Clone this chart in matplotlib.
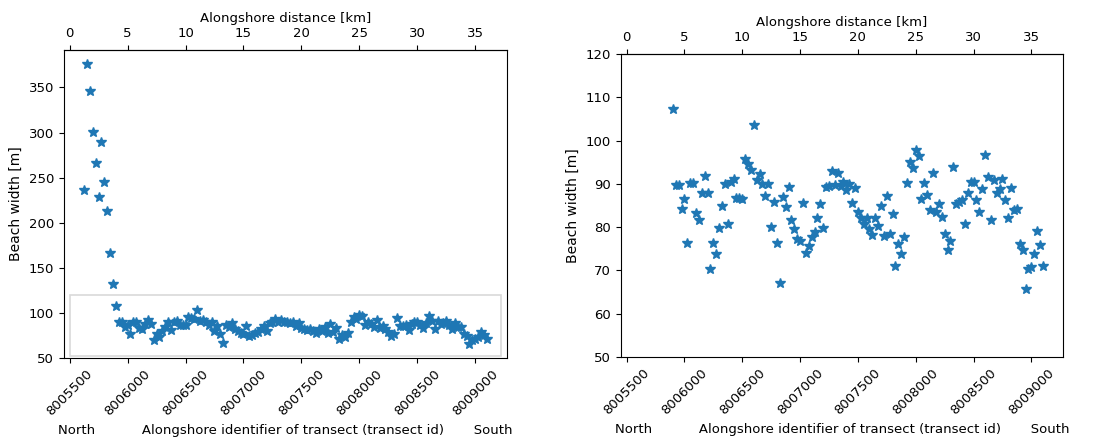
import numpy as np
import matplotlib
matplotlib.use("Agg")
import matplotlib.pyplot as plt
import matplotlib.patches as patches

# transects are numbered every 25 ids, 100 ids per km alongshore
first_id = 8005625
id_step = 25
origin_id = 8005500

# northern transects (only visible in the full-range panel)
north_width = [236, 376, 346, 301, 266, 229, 290, 245, 213, 166, 132]

# remaining transects, north to south
main_width = [
    107.3, 89.8, 89.8, 84.2, 86.5, 76.4, 90.2, 90.2, 83.2, 81.7,
    87.9, 91.9, 87.9, 70.4, 76.4, 73.7, 79.8, 84.8, 89.9, 80.7,
    90.4, 91.2, 86.8, 86.8, 86.5, 95.7, 94.6, 93.2, 103.5, 90.9,
    92.2, 90.0, 87.1, 89.9, 80.0, 85.8, 76.3, 67.0, 86.9, 84.6,
    89.2, 81.7, 79.5, 77.2, 76.7, 85.5, 74.0, 75.7, 77.8, 78.8,
    82.1, 85.4, 79.8, 89.3, 89.6, 93.0, 89.7, 92.5, 89.4, 90.4,
    88.6, 89.9, 85.5, 89.0, 83.4, 82.2, 80.7, 82.1, 79.5, 78.2,
    82.1, 80.2, 84.8, 78.0, 87.3, 78.5, 83.0, 71.1, 76.0, 73.8,
    77.7, 90.3, 95.0, 93.6, 97.8, 96.5, 86.6, 90.2, 87.4, 84.0,
    92.6, 83.6, 85.4, 82.4, 78.4, 74.7, 76.7, 93.9, 85.4, 85.9,
    86.2, 80.7, 88.0, 90.4, 90.4, 86.3, 83.4, 88.7, 96.7, 91.5,
    81.7, 90.9, 88.0, 88.8, 91.2, 86.3, 82.1, 89.0, 84.0, 84.2,
    76.1, 74.7, 65.7, 70.4, 70.7, 73.7, 79.2, 75.9, 71.1,
]

width = np.array(north_width + main_width)
transect_id = first_id + id_step * np.arange(len(width))
n_north = len(north_width)

id_ticks = [8005500, 8006000, 8006500, 8007000, 8007500, 8008000, 8008500, 8009000]
km_ticks = [0, 5, 10, 15, 20, 25, 30, 35]

plt.rcParams['font.size'] = 9.5
fig = plt.figure(figsize=(11.01, 4.43), dpi=100)
ax1 = fig.add_axes([0.0581, 0.1919, 0.4024, 0.6952])
ax2 = fig.add_axes([0.5640, 0.1941, 0.4015, 0.6840])

xlabel = ("North" + " " * 11 + "Alongshore identifier of transect (transect id)"
          + " " * 7 + "South")


def id_to_km(x):
    return (x - origin_id) / 100.0


def km_to_id(d):
    return d * 100.0 + origin_id


ax1.plot(transect_id, width, '*', color='tab:blue', markersize=7)
ax2.plot(transect_id[n_north:], width[n_north:], '*', color='tab:blue', markersize=7)

span = transect_id[-1] - transect_id[0]
xlim = (transect_id[0] - 0.05 * span, transect_id[-1] + 0.05 * span)
wspan = width.max() - width.min()

for ax in (ax1, ax2):
    ax.set_xlim(*xlim)
    ax.set_xticks(id_ticks)
    ax.ticklabel_format(axis='x', useOffset=False, style='plain')
    plt.setp(ax.get_xticklabels(), rotation=45, ha='center')
    ax.set_xlabel(xlabel)
    ax.set_ylabel("Beach width [m]", fontsize=10)
    top = ax.secondary_xaxis('top', functions=(id_to_km, km_to_id))
    top.set_xticks(km_ticks)
    top.set_xlabel("Alongshore distance [km]")

ax1.set_ylim(50, width.max() + 0.05 * wspan)
ax1.set_yticks([50, 100, 150, 200, 250, 300, 350])
ax2.set_ylim(50, 120)
ax2.set_yticks(np.arange(50, 121, 10))

# outline of the range shown in the right-hand panel
ax1.add_patch(patches.Rectangle((origin_id, 52), 3725, 68, fill=False,
                                edgecolor='#d9d9d9', linewidth=1.2))

fig.savefig("out.png", dpi=100)
